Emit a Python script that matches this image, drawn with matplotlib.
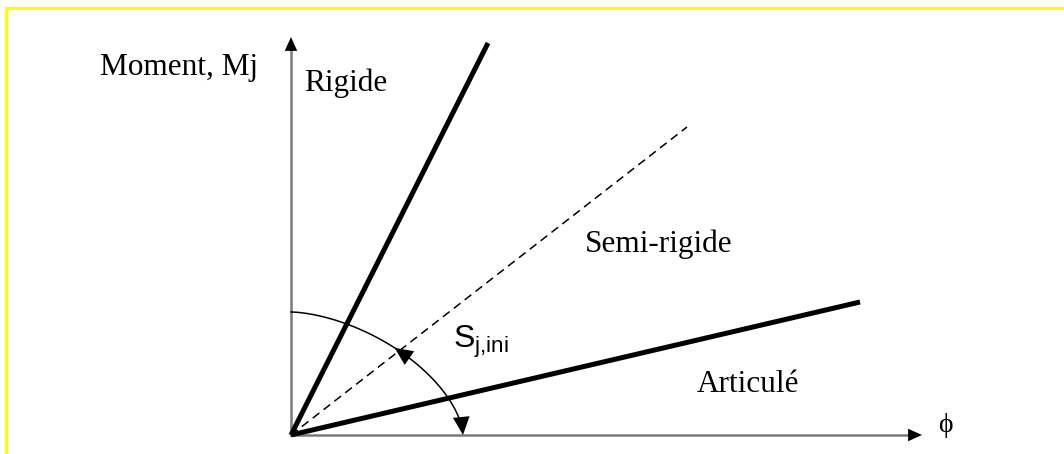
"""
Courbe moment-rotation : classification des assemblages
"""

import numpy as np
import matplotlib
matplotlib.use("Agg")
import matplotlib.pyplot as plt
from matplotlib.lines import Line2D

# droites de rigidite (extremites, origine en 0,0)
labels = ["Rigide", "Semi-rigide", "Articulé"]
phi_end = [197, 396, 569]
moment_end = [392, 308, 133]
styles = ["solid", "dashed", "solid"]

# longueur des axes
phi_axis = 631
moment_axis = 398

# arc S_j,ini
arc_rx, arc_ry, arc_p = 172, 123, 1.65


def main() -> None:
    fig = plt.figure(figsize=(10.64, 4.54), dpi=100)
    ax = fig.add_axes([0, 0, 1, 1])
    ax.set_xlim(-291, 1064 - 291)
    ax.set_ylim(-19, 435)
    ax.axis("off")

    # cadre jaune (haut et gauche)
    fig.add_artist(Line2D([6 / 1064, 1], [1 - 8 / 454, 1 - 8 / 454],
                          color="#ffff00", lw=2.2))
    fig.add_artist(Line2D([6 / 1064, 6 / 1064], [0, 1 - 8 / 454],
                          color="#ffff00", lw=2.2))

    # axes
    ax.plot([0, 0], [0, moment_axis - 12], color="#7a7a7a", lw=1.8)
    ax.plot([0, phi_axis - 12], [0, 0], color="#7a7a7a", lw=1.8)
    head = dict(arrowstyle="-|>,head_length=1.0,head_width=0.45",
                color="black", lw=0, shrinkA=0, shrinkB=0)
    ax.annotate("", xy=(0, moment_axis), xytext=(0, moment_axis - 14),
                arrowprops=head)
    ax.annotate("", xy=(phi_axis, 0), xytext=(phi_axis - 14, 0),
                arrowprops=head)

    # droites
    for px, my, ls in zip(phi_end, moment_end, styles):
        if ls == "dashed":
            ax.plot([0, px], [0, my], color="black", lw=1.1,
                    linestyle=(0, (5.5, 3.5)))
        else:
            ax.plot([0, px], [0, my], color="black", lw=3.6,
                    solid_capstyle="butt")

    # arc
    t = np.linspace(0, np.pi / 2, 200)
    ax_x = arc_rx * np.cos(t) ** (2 / arc_p)
    ax_y = arc_ry * np.sin(t) ** (2 / arc_p)
    ax.plot(ax_x[8:], ax_y[8:], color="black", lw=1.1)
    arc_head = dict(arrowstyle="-|>,head_length=1.3,head_width=0.6",
                    color="black", lw=0, shrinkA=0, shrinkB=0)
    # fleche vers le bas sur l'axe phi
    ax.annotate("", xy=(ax_x[0], ax_y[0]), xytext=(ax_x[8], ax_y[8]),
                arrowprops=arc_head)
    # fleche au milieu vers le haut
    k = 108
    ax.annotate("", xy=(ax_x[k], ax_y[k]), xytext=(ax_x[k - 12], ax_y[k - 12]),
                arrowprops=arc_head)

    serif = ["Liberation Serif", "DejaVu Serif"]
    ax.text(-191, 367, "Moment, Mj", family=serif, fontsize=22.5,
            ha="left", va="center")
    ax.text(13, 352, labels[0], family=serif, fontsize=22.5,
            ha="left", va="center")
    ax.text(294, 191, labels[1], family=serif, fontsize=22.5,
            ha="left", va="center")
    ax.text(406, 50, labels[2], family=serif, fontsize=22.5,
            ha="left", va="center")
    ax.text(162, 93, r"S$_{\mathregular{j{,}ini}}$",
            family=["Liberation Sans", "DejaVu Sans"], fontsize=23,
            ha="left", va="center")
    ax.text(654, 9, "ϕ", family=serif, fontsize=20,
            ha="center", va="center")

    fig.savefig("out.png", dpi=100)
    plt.close(fig)


if __name__ == "__main__":
    main()
